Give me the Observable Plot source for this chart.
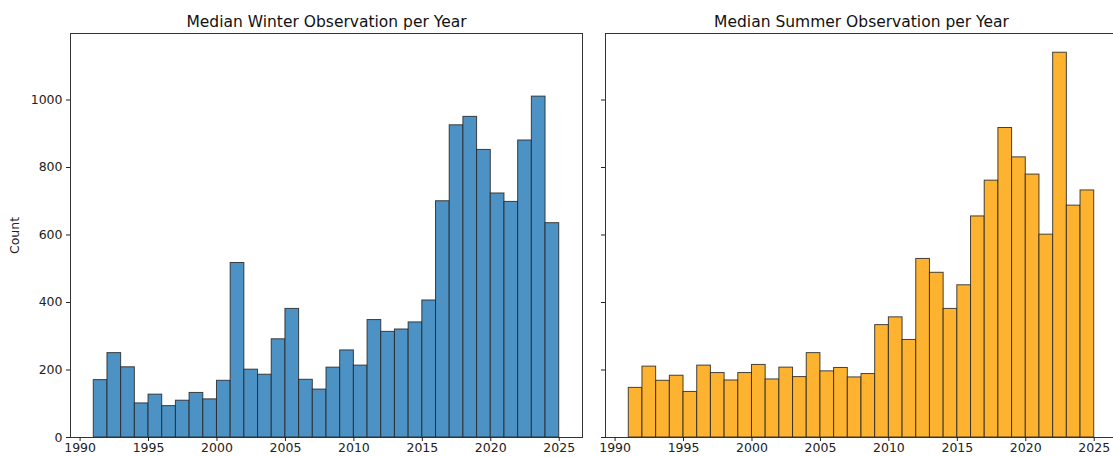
<!DOCTYPE html>
<html>
<head>
<meta charset="utf-8">
<script src="https://cdn.jsdelivr.net/npm/d3@7"></script>
<script src="https://cdn.jsdelivr.net/npm/@observablehq/plot@0.6"></script>
<style>
  html, body { margin: 0; padding: 0; background: #fff; }
  #wrap { position: relative; width: 1113px; height: 457px; overflow: hidden; }
  #left { position: absolute; left: 0; top: 0; width: 592px; height: 457px; }
  #right { position: absolute; left: 535px; top: 0; width: 592px; height: 457px; }
  svg { font-family: "DejaVu Sans", sans-serif; max-width: none !important; }
</style>
</head>
<body>
<div id="wrap"><div id="left"></div><div id="right"></div></div>
<script>
// Bin starts / ends (each bin spans one year)
const binStarts = [1991,1992,1993,1994,1995,1996,1997,1998,1999,2000,2001,2002,2003,2004,2005,2006,2007,2008,2009,2010,2011,2012,2013,2014,2015,2016,2017,2018,2019,2020,2021,2022,2023,2024];
const binEnds   = [1992,1993,1994,1995,1996,1997,1998,1999,2000,2001,2002,2003,2004,2005,2006,2007,2008,2009,2010,2011,2012,2013,2014,2015,2016,2017,2018,2019,2020,2021,2022,2023,2024,2025];
const winterCounts = [170,250,208,101,127,93,109,132,113,168,517,201,186,291,381,171,142,207,258,213,348,313,320,341,406,700,925,950,852,723,698,880,1010,635];
const summerCounts = [147,210,168,183,135,213,191,169,191,215,172,207,179,250,196,206,178,188,333,356,289,529,488,381,451,655,761,917,830,779,601,1140,687,732];
const xTicks = [1990,1995,2000,2005,2010,2015,2020,2025];
const yTicks = [0,200,400,600,800,1000];
const titles = ["Median Winter Observation per Year", "Median Summer Observation per Year"];
const colors = ["#4c92c4", "#fdb32f"];

function panel(counts, title, color, showYLabels) {
  const rows = binStarts.map((s, i) => ({x1: s, x2: binEnds[i], y: counts[i]}));
  return Plot.plot({
    width: 592,
    height: 457,
    marginLeft: 70,
    marginRight: 10,
    marginTop: 33,
    marginBottom: 20,
    style: {fontFamily: "DejaVu Sans, sans-serif", fontSize: "12.5px", color: "#222", background: "transparent", maxWidth: "none"},
    x: {domain: [1989.3, 2026.7]},
    y: {domain: [0, 1197]},
    marks: [
      Plot.rect(rows, {x1: "x1", x2: "x2", y1: 0, y2: "y", fill: color, stroke: "#262626", strokeWidth: 1, strokeOpacity: 0.85}),
      Plot.frame({stroke: "#333", strokeWidth: 1}),
      Plot.axisX({ticks: xTicks, tickFormat: d => String(d), tickSize: 4, tickPadding: 2, label: null, fontSize: 12.5}),
      showYLabels
        ? Plot.axisY({ticks: yTicks, tickFormat: d => String(d), tickSize: 4, tickPadding: 4, label: "Count", labelAnchor: "center", labelArrow: "none", labelOffset: 60, fontSize: 12.5})
        : Plot.axisY({ticks: yTicks, tickSize: 4, tickFormat: () => "", label: null}),
      Plot.text([title], {frameAnchor: "top", lineAnchor: "bottom", dy: -7, fontSize: 15.5, fill: "#111"})
    ]
  });
}

document.getElementById("left").appendChild(panel(winterCounts, titles[0], colors[0], true));
document.getElementById("right").appendChild(panel(summerCounts, titles[1], colors[1], false));
</script>
</body>
</html>
